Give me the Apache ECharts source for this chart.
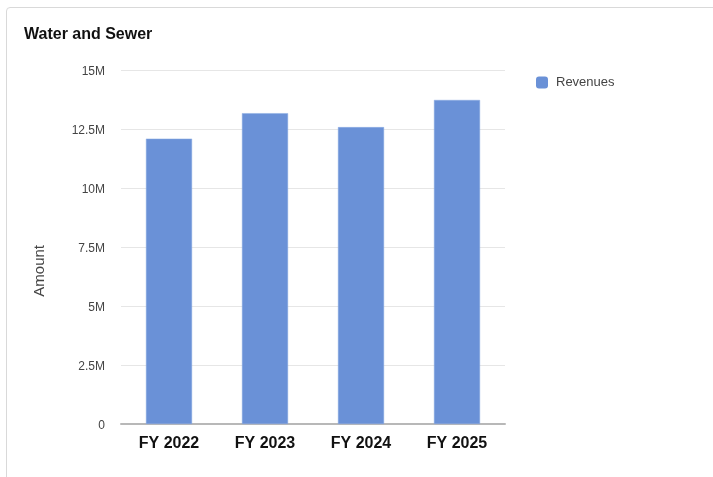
<!DOCTYPE html>
<html><head><meta charset="utf-8">
<script src="https://cdn.jsdelivr.net/npm/echarts@6/dist/echarts.min.js"></script>
<style>
html,body{margin:0;padding:0;background:#fff;width:713px;height:477px;overflow:hidden;}
#card{position:absolute;left:6px;top:7px;width:760px;height:520px;border:1px solid #d9d9d9;border-radius:4px;box-sizing:border-box;}
#c{position:absolute;left:0;top:0;width:713px;height:477px;}
</style></head>
<body>
<div id="card"></div>
<div id="c"></div>
<script>
const categories = ['FY 2022','FY 2023','FY 2024','FY 2025'];
const revenues = [12090000, 13170000, 12580000, 13730000];
const seriesName = 'Revenues';
const yTicks = {min:0, max:15000000, interval:2500000};
const yAxisTitle = 'Amount';

const FONT = 'Liberation Sans, Arial';
const chart = echarts.init(document.getElementById('c'), null, {renderer:'canvas'});
chart.setOption({
  animation:false,
  title:{text:'Water and Sewer', left:19, top:22, textStyle:{fontFamily:FONT, fontSize:16, fontWeight:'bold', color:'#111'}},
  legend:{data:[seriesName], left:531, top:71, itemWidth:12, itemHeight:12, itemGap:8,
    itemStyle:{borderWidth:0},
    textStyle:{fontFamily:FONT, fontSize:13, color:'#444', padding:[0,0,0,3]}, icon:'roundRect'},
  grid:{left:121, right:208, top:70, bottom:53},
  graphic:[{type:'text', left:32, top:245, rotation:Math.PI/2,
    style:{text:yAxisTitle, font:'15px ' + FONT, fill:'#444'}}],
  xAxis:{type:'category', data:categories,
    axisLine:{lineStyle:{color:'#b8b8b8', width:2}},
    axisTick:{show:false},
    axisLabel:{fontFamily:FONT, fontSize:16, fontWeight:'bold', color:'#111', margin:12}},
  yAxis:{type:'value', min:yTicks.min, max:yTicks.max, interval:yTicks.interval,
    axisLine:{show:false}, axisTick:{show:false},
    splitLine:{lineStyle:{color:'#e6e6e6', width:1}},
    axisLabel:{fontFamily:FONT, fontSize:12, color:'#444', margin:16, verticalAlign:'top', padding:[-4,0,0,0],
      formatter:function(v){ if(v===0) return '0'; return (v/1e6)+'M'; }}},
  series:[{name:seriesName, type:'bar', data:revenues, barWidth:'48%',
    itemStyle:{color:'#6a91d7', borderColor:'#8aaae3', borderWidth:0.5}}]
});
</script>
</body></html>
